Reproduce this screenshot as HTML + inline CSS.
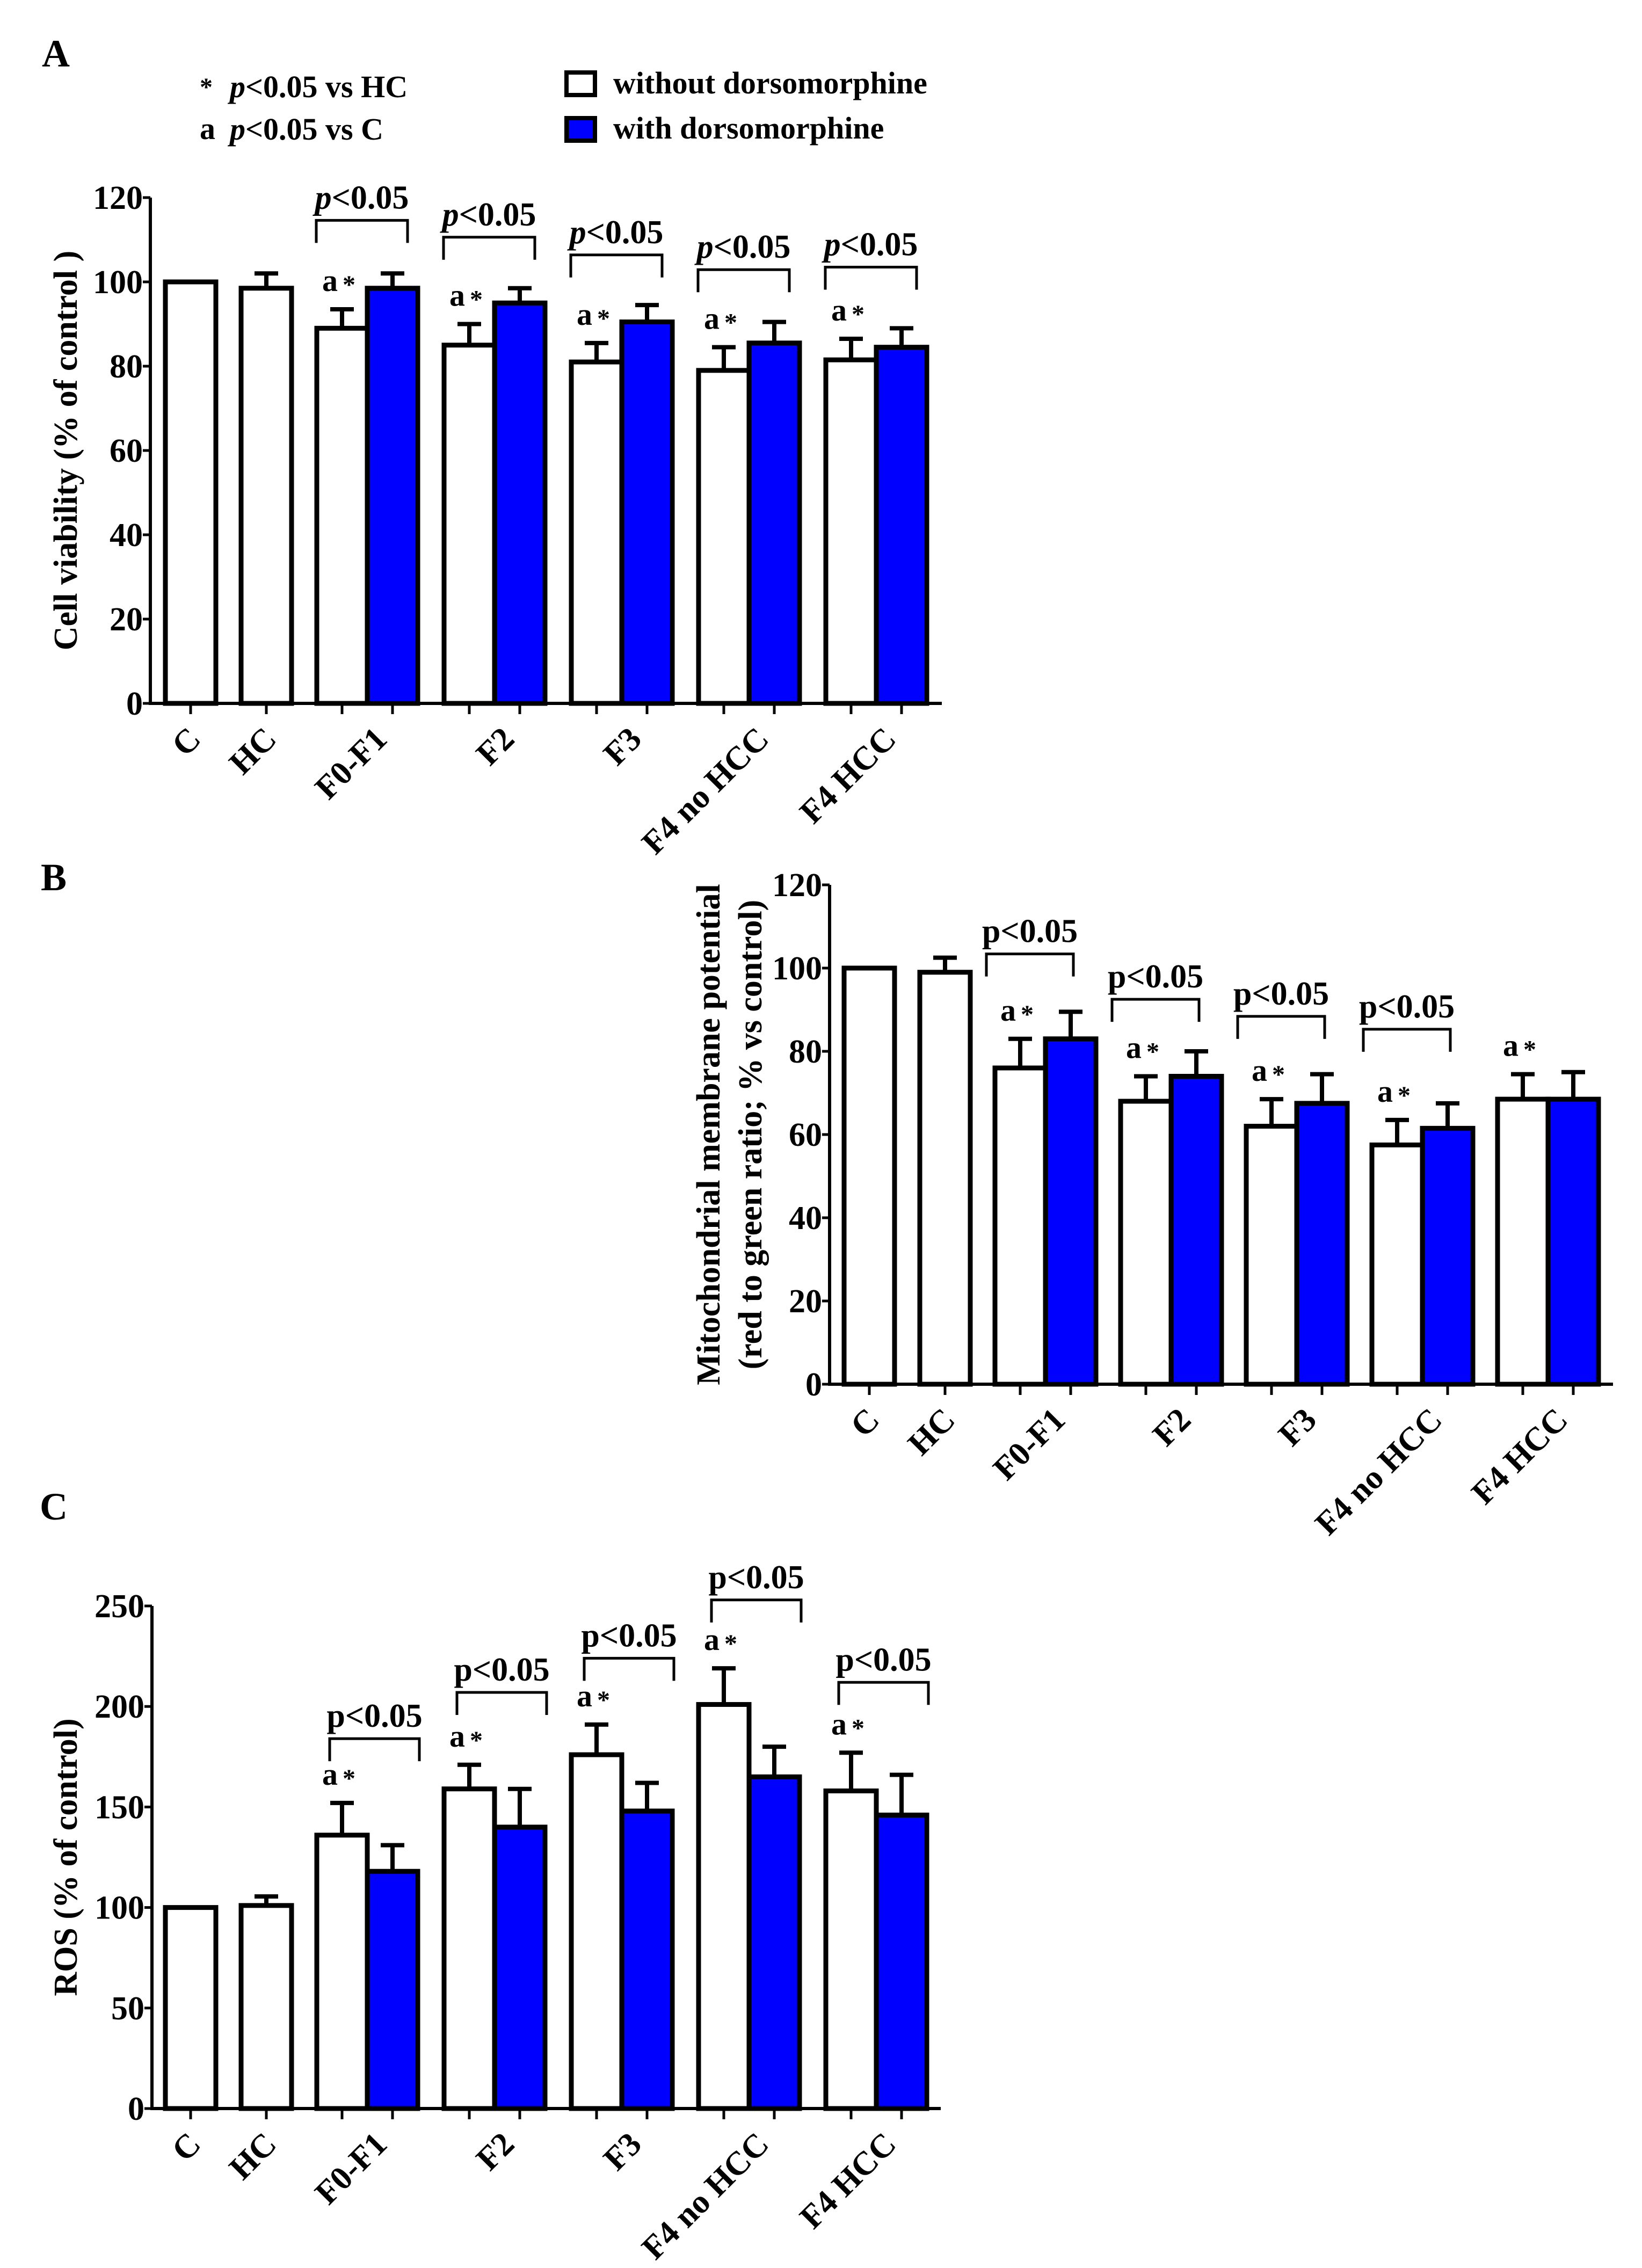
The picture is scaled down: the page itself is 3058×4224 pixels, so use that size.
<!DOCTYPE html>
<html><head><meta charset="utf-8"><style>
html,body{margin:0;padding:0;background:#fff;overflow:hidden;}
svg{display:block;font-family:"Liberation Serif",serif;font-weight:bold;}
</style></head><body>
<svg id="fig" xmlns="http://www.w3.org/2000/svg" width="3058" height="4224" viewBox="0 0 3058 4224">
<rect width="3058" height="4224" fill="#fff"/>
<text x="78" y="124" font-size="72">A</text>
<text x="76" y="1658" font-size="72">B</text>
<text x="74" y="2830" font-size="72">C</text>
<g>
<text x="372" y="178" font-size="48">*</text>
<text x="428" y="181" font-size="58"><tspan font-style="italic">p</tspan>&lt;0.05 vs HC</text>
<text x="372" y="259" font-size="58">a</text>
<text x="428" y="260" font-size="58"><tspan font-style="italic">p</tspan>&lt;0.05 vs C</text>
</g>
<g>
<rect x="1055" y="135" width="53" height="42" fill="#fff" stroke="#000" stroke-width="8"/>
<text x="1142" y="174" font-size="58">without dorsomorphine</text>
<rect x="1055" y="220" width="53" height="42" fill="#0000ff" stroke="#000" stroke-width="8"/>
<text x="1142" y="258" font-size="58">with dorsomorphine</text>
</g>
</svg>
<script>
const categories = ["C","HC","F0-F1","F2","F3","F4 no HCC","F4 HCC"];
const groupsWithPair = ["F0-F1","F2","F3","F4 no HCC","F4 HCC"];
// Panel A: cell viability
const aWithout = [100, 98.5, 89, 85, 81, 79, 81.5];
const aWithoutErr = [0, 3.5, 4.5, 5, 4.5, 5.5, 5];
const aWith = [98.5, 95, 90.5, 85.5, 84.5];
const aWithErr = [3.5, 3.5, 4, 5, 4.5];
const aBracket = [114.6, 110.6, 106.4, 102.9, 103.5];
const aTicks = [0, 20, 40, 60, 80, 100, 120];
// Panel B: mitochondrial membrane potential
const bWithout = [100, 99, 76, 68, 62, 57.5, 68.5];
const bWithoutErr = [0, 3.5, 7, 6, 6.5, 6, 6];
const bWith = [83, 74, 67.5, 61.5, 68.5];
const bWithErr = [6.5, 6, 7, 6, 6.5];
const bBracket = [103.4, 92.5, 88.4, 85.3, null];
const bTicks = [0, 20, 40, 60, 80, 100, 120];
// Panel C: ROS
const cWithout = [100, 101, 136, 159, 176, 201, 158];
const cWithoutErr = [0, 4.5, 16, 12, 15, 18, 19];
const cWith = [118, 140, 148, 165, 146];
const cWithErr = [13, 19, 14, 15, 20];
const cBracket = [184, 207, 224, 253, 212];
const cTicks = [0, 50, 100, 150, 200, 250];
const sigMarks = [false, false, true, true, true, true, true];

const NS = "http://www.w3.org/2000/svg";
const svg = document.getElementById("fig");
function mk(tag, attrs, parent){
  const e = document.createElementNS(NS, tag);
  for (const k in attrs) e.setAttribute(k, attrs[k]);
  (parent || svg).appendChild(e);
  return e;
}
function panel(cfg){
  const g = mk("g", {});
  
  
  const y = v => cfg.y0 - (v / cfg.max) * (cfg.y0 - cfg.yTop);
  const bw = cfg.bw;
  const centers = [cfg.cC, cfg.cHC];
  for (let i = 0; i < groupsWithPair.length; i++) centers.push(cfg.g0 + i * cfg.gs);
  for (let i = 0; i < categories.length; i++) {
    const paired = i >= 2;
    const wx = paired ? centers[i] - bw : centers[i] - bw / 2;
    const v = cfg.without[i], e = cfg.withoutErr[i];
    if (e > 0) {
      const ln = mk("path", {d:`M${wx+bw/2} ${y(v)} V${y(v+e)} M${wx+bw/2-22} ${y(v+e)} H${wx+bw/2+22}`, stroke:"#000", "stroke-width":8, fill:"none"}, g);
      
      
    }
    const r = mk("rect", {x:wx, y:y(v), width:bw, height:cfg.y0 - y(v), fill:"#fff", stroke:"#000", "stroke-width":9}, g);
    
    
    if (paired) {
      const j = i - 2;
      const bx = centers[i];
      const bv = cfg.with_[j], be = cfg.withErr[j];
      const ln2 = mk("path", {d:`M${bx+bw/2} ${y(bv)} V${y(bv+be)} M${bx+bw/2-22} ${y(bv+be)} H${bx+bw/2+22}`, stroke:"#000", "stroke-width":8, fill:"none"}, g);
      
      
      const r2 = mk("rect", {x:bx, y:y(bv), width:bw, height:cfg.y0 - y(bv), fill:"#0000ff", stroke:"#000", "stroke-width":9}, g);
      
      
      if (sigMarks[i] && cfg.marks[j]) {
        const ty = y(v + e) - 34;
        const ta = mk("text", {x:wx + 10, y:ty, "font-size":58}, g);
        ta.textContent = "a";
        
        
        const ts = mk("text", {x:wx + 48, y:ty + 4, "font-size":48}, g);
        ts.textContent = "*";
        
        
      }
      const bv2 = cfg.bracket[j];
      if (bv2 !== null) {
        const x1 = centers[i] + cfg.brL, x2 = centers[i] + cfg.brR;
        const by = y(bv2);
        const br = mk("path", {d:`M${x1} ${by+42} V${by} H${x2} V${by+42}`, stroke:"#000", "stroke-width":5, fill:"none"}, g);
        
        
        const pt = mk("text", {x:(x1+x2)/2, y:by - 22, "font-size":62, "text-anchor":"middle"}, g);
        if (cfg.italicP) {
          const sp = mk("tspan", {"font-style":"italic"}, pt); sp.textContent = "p";
          const sp2 = mk("tspan", {}, pt); sp2.textContent = "<0.05";
        } else pt.textContent = "p<0.05";
        
        
      }
    }
  }
  const ax = mk("path", {d:`M${cfg.ax} ${cfg.yTop} V${cfg.y0} H${cfg.xEnd}`, stroke:"#000", "stroke-width":6, fill:"none"}, g);
  
  
  for (const t of cfg.ticks) {
    const tk = mk("line", {x1:cfg.ax - 14, x2:cfg.ax, y1:y(t), y2:y(t), stroke:"#000", "stroke-width":5}, g);
    
    
    const tl = mk("text", {x:cfg.ax - 14, y:y(t) + 21, "font-size":62, "text-anchor":"end"}, g);
    tl.textContent = t;
    
    
  }
  const xt = [];
  for (let i = 0; i < categories.length; i++) {
    if (i < 2) xt.push(centers[i]); else { xt.push(centers[i] - bw/2); xt.push(centers[i] + bw/2); }
  }
  for (const x of xt) {
    const tk = mk("line", {x1:x, x2:x, y1:cfg.y0, y2:cfg.y0 + 20, stroke:"#000", "stroke-width":5}, g);
    
    
  }
  for (let i = 0; i < categories.length; i++) {
    const lx = centers[i] + (i < 2 ? 22 : 40), ly = cfg.y0 + 70;
    const tl = mk("text", {x:lx, y:ly, "font-size":62, "text-anchor":"end", transform:`rotate(-45 ${lx} ${ly})`}, g);
    tl.textContent = categories[i];
    
    
  }
  cfg.titles.forEach((t, k) => {
    const tx = cfg.titleX[k], ty = (cfg.y0 + cfg.yTop) / 2;
    const tt = mk("text", {x:tx, y:ty, "font-size":62, "text-anchor":"middle", transform:`rotate(-90 ${tx} ${ty})`}, g);
    tt.textContent = t;
    
    
  });
}
panel({name:"panel-a-cell-viability", ax:280, y0:1310, yTop:368, max:120, xEnd:1754, cC:355, cHC:496, g0:684, gs:237, bw:94,
  without:aWithout, withoutErr:aWithoutErr, with_:aWith, withErr:aWithErr, bracket:aBracket, ticks:aTicks,
  marks:[1,1,1,1,1], brL:-95, brR:75, italicP:true, titles:["Cell viability (% of control )"], titleX:[143]});
panel({name:"panel-b-mitochondrial-potential", ax:1545, y0:2578, yTop:1648, max:120, xEnd:3004, cC:1619, cHC:1760, g0:1947, gs:234, bw:94,
  without:bWithout, withoutErr:bWithoutErr, with_:bWith, withErr:bWithErr, bracket:bBracket, ticks:bTicks,
  marks:[1,1,1,1,1], brL:-110, brR:52, italicP:false, titles:["Mitochondrial membrane potential","(red to green ratio; % vs control)"], titleX:[1340,1418]});
panel({name:"panel-c-ros", ax:283, y0:3927, yTop:2991, max:250, xEnd:1752, cC:355, cHC:496, g0:684, gs:237, bw:94,
  without:cWithout, withoutErr:cWithoutErr, with_:cWith, withErr:cWithErr, bracket:cBracket, ticks:cTicks,
  marks:[1,1,1,1,1], brL:-70, brR:97, italicP:false, titles:["ROS (% of control)"], titleX:[143]});
</script>
</body></html>
